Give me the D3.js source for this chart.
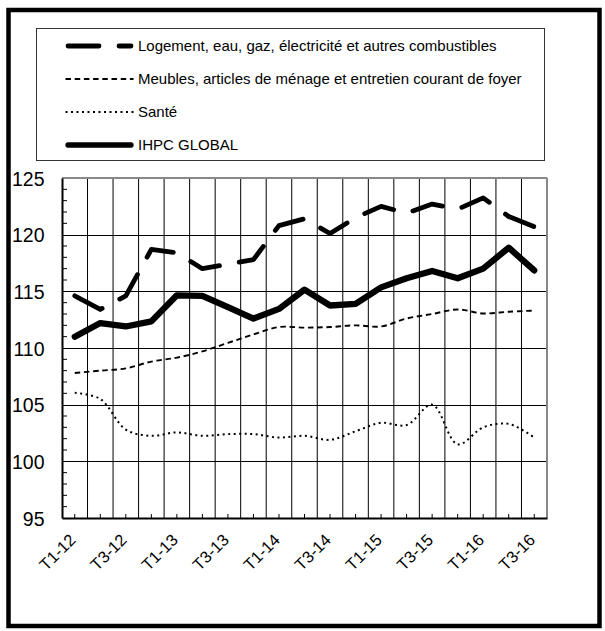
<!DOCTYPE html>
<html>
<head>
<meta charset="utf-8">
<script src="https://cdn.jsdelivr.net/npm/d3@7"></script>
<style>
  html, body { margin: 0; padding: 0; background: #fff; }
  svg { display: block; }
  text { font-family: "Liberation Sans", Arial, sans-serif; fill: #000; }
</style>
</head>
<body>
<svg id="chart" width="605" height="631"></svg>
<script>
const categories = ["T1-12","T2-12","T3-12","T4-12","T1-13","T2-13","T3-13","T4-13","T1-14","T2-14","T3-14","T4-14","T1-15","T2-15","T3-15","T4-15","T1-16","T2-16","T3-16"];
const tickLabels = ["T1-12","T3-12","T1-13","T3-13","T1-14","T3-14","T1-15","T3-15","T1-16","T3-16"];
const yTicks = [95, 100, 105, 110, 115, 120, 125];

const seriesNames = [
  "Logement, eau, gaz, électricité et autres combustibles",
  "Meubles, articles de ménage et entretien courant de foyer",
  "Santé",
  "IHPC GLOBAL"
];
const logement = [114.6, 113.4, 114.6, 118.7, 118.4, 117.0, 117.4, 117.8, 120.8, 121.4, 120.1, 121.5, 122.5, 121.9, 122.7, 122.25, 123.25, 121.6, 120.7];
const meubles  = [107.8, 108.0, 108.2, 108.8, 109.15, 109.7, 110.45, 111.2, 111.85, 111.8, 111.85, 112.0, 111.9, 112.6, 113.0, 113.4, 113.05, 113.2, 113.3];
const sante    = [106.05, 105.5, 102.8, 102.25, 102.55, 102.25, 102.4, 102.4, 102.1, 102.25, 101.9, 102.65, 103.4, 103.2, 105.0, 101.5, 103.0, 103.3, 102.1];
const ihpc     = [111.0, 112.2, 111.9, 112.35, 114.65, 114.6, 113.6, 112.6, 113.45, 115.15, 113.75, 113.9, 115.35, 116.15, 116.8, 116.15, 117.0, 118.85, 116.85];

const svg = d3.select("#chart");

// outer frame
svg.append("rect").attr("x", 8.5).attr("y", 10).attr("width", 591).attr("height", 616)
  .attr("fill", "none").attr("stroke", "#000").attr("stroke-width", 4.5);

const L = 62, R = 547, T = 178, B = 518;
const x = d3.scaleBand().domain(categories).range([L, R]).padding(0);
const xc = d => x(d) + x.bandwidth() / 2;
const y = d3.scaleLinear().domain([95, 125]).range([B, T]);

const styles = [
  { data: logement, width: 4.8, dash: "31,20", cap: "round", curve: d3.curveLinear },
  { data: meubles, width: 1.9, dash: "5.5,3.7", cap: "butt", curve: d3.curveCatmullRom.alpha(0.5) },
  { data: sante, width: 2, dash: "2,3.5", cap: "butt", curve: d3.curveCatmullRom.alpha(0.5) },
  { data: ihpc, width: 6.3, dash: null, cap: "round", curve: d3.curveLinear }
];

const g = svg.append("g");

// horizontal gridlines
g.selectAll("line.hgrid").data(yTicks.slice(1)).join("line")
  .attr("x1", L).attr("x2", R)
  .attr("y1", d => Math.round(y(d)) + 0.5).attr("y2", d => Math.round(y(d)) + 0.5)
  .attr("stroke", "#000").attr("stroke-width", 1);

// vertical gridlines at category boundaries
g.selectAll("line.vgrid").data(categories.slice(1)).join("line")
  .attr("x1", d => x(d)).attr("x2", d => x(d))
  .attr("y1", T).attr("y2", B)
  .attr("stroke", "#000").attr("stroke-width", 1);

// y minor ticks (inside)
const minor = d3.range(96, 125).filter(v => v % 5 !== 0);
g.selectAll("line.ymin").data(minor).join("line")
  .attr("x1", L).attr("x2", L + 5)
  .attr("y1", d => y(d)).attr("y2", d => y(d))
  .attr("stroke", "#000").attr("stroke-width", 1);

// x minor ticks at category centers (inside)
g.selectAll("line.xmin").data(categories).join("line")
  .attr("x1", d => xc(d)).attr("x2", d => xc(d))
  .attr("y1", B).attr("y2", B - 4)
  .attr("stroke", "#000").attr("stroke-width", 1);

// plot border: top/right gray
g.append("line").attr("x1", L).attr("x2", R).attr("y1", T).attr("y2", T).attr("stroke", "#888").attr("stroke-width", 2);
g.append("line").attr("x1", R).attr("x2", R).attr("y1", T).attr("y2", B).attr("stroke", "#888").attr("stroke-width", 2);

// axes (left and bottom)
const yAxis = d3.axisLeft(y).tickValues(yTicks).tickSize(0).tickPadding(17.5);
const ya = svg.append("g").attr("transform", `translate(${L},0)`).call(yAxis);
ya.select(".domain").attr("stroke", "#000").attr("stroke-width", 2);
ya.selectAll("text").attr("font-size", 19.5).attr("font-family", "Liberation Sans, Arial, sans-serif").attr("dy", "0.36em");

const xAxis = d3.axisBottom(x).tickValues(tickLabels).tickSize(0).tickFormat(d => d);
const xa = svg.append("g").attr("transform", `translate(0,${B})`).call(xAxis);
xa.select(".domain").attr("stroke", "#000").attr("stroke-width", 2);
xa.selectAll(".tick text")
  .attr("font-size", 16.5).attr("font-family", "Liberation Sans, Arial, sans-serif")
  .attr("text-anchor", "end").attr("dy", 0).attr("y", 0)
  .attr("transform", "translate(2,23) rotate(-45)");

// series
styles.forEach(s => {
  const line = d3.line().x((d, i) => xc(categories[i])).y(d => y(d)).curve(s.curve);
  svg.append("path").datum(s.data)
    .attr("d", line)
    .attr("fill", "none").attr("stroke", "#000")
    .attr("stroke-width", s.width)
    .attr("stroke-dasharray", s.dash)
    .attr("stroke-linecap", s.cap)
    .attr("stroke-linejoin", "round");
});

// legend
const lg = svg.append("g");
lg.append("rect").attr("x", 36.5).attr("y", 28.5).attr("width", 508).attr("height", 132)
  .attr("fill", "#fff").attr("stroke", "#333").attr("stroke-width", 1);
const rowY = [46, 79, 112, 145];
seriesNames.forEach((name, i) => {
  const s = styles[i];
  const x1 = s.cap === "round" ? 68 : 65.5, x2 = s.cap === "round" ? 131 : 133.5;
  lg.append("line").attr("x1", x1).attr("x2", x2).attr("y1", rowY[i]).attr("y2", rowY[i])
    .attr("stroke", "#000").attr("stroke-width", i === 3 ? 5.3 : s.width)
    .attr("stroke-dasharray", s.dash).attr("stroke-linecap", s.cap);
  lg.append("text").attr("x", 138).attr("y", rowY[i]).attr("dy", "0.35em")
    .attr("font-size", 15).text(name);
});
</script>
</body>
</html>
